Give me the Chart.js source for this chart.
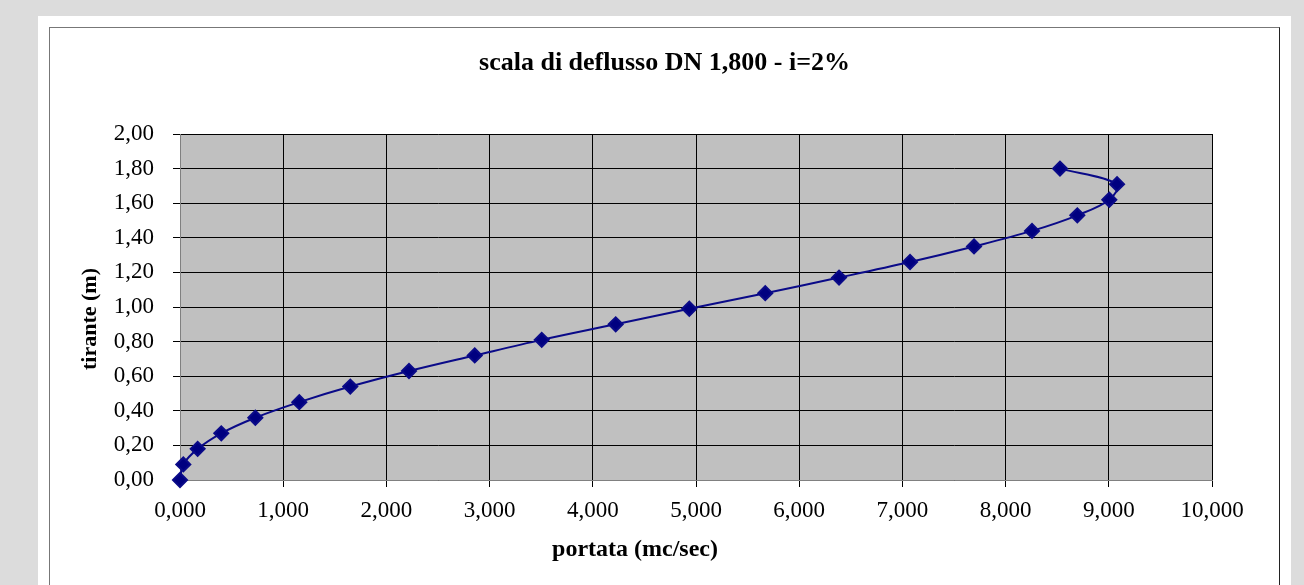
<!DOCTYPE html>
<html>
<head>
<meta charset="utf-8">
<script src="https://cdn.jsdelivr.net/npm/chart.js@4.4.0/dist/chart.umd.min.js"></script>
<style>
  html, body { margin: 0; padding: 0; background: #dcdcdc; overflow: hidden; }
  #panel { position: absolute; left: 38px; top: 16px; width: 1253px; height: 600px; background: #fff; }
  #frame { position: absolute; left: 49px; top: 27px; width: 1229px; height: 600px;
           border-left: 1px solid #777; border-top: 1px solid #777; border-right: 1px solid #222; }
  #chart { position: absolute; left: 50px; top: 28px; }
</style>
</head>
<body>
<div id="panel"></div>
<div id="frame"></div>
<canvas id="chart" width="1229" height="557"></canvas>
<script>
// DATA
const portata = [0.000, 0.032, 0.171, 0.400, 0.730, 1.156, 1.650, 2.219, 2.856, 3.505,
                 4.222, 4.935, 5.671, 6.386, 7.074, 7.694, 8.256, 8.695, 9.005, 9.080, 8.527];
const tirante = [0.00, 0.09, 0.18, 0.27, 0.36, 0.45, 0.54, 0.63, 0.72, 0.81,
                 0.90, 0.99, 1.08, 1.17, 1.26, 1.35, 1.44, 1.53, 1.62, 1.71, 1.80];
const xTicks = [0, 1, 2, 3, 4, 5, 6, 7, 8, 9, 10];
const yTicks = [0, 0.2, 0.4, 0.6, 0.8, 1.0, 1.2, 1.4, 1.6, 1.8, 2.0];

const chartTitle = "scala di deflusso DN 1,800 - i=2%";
const xTitle = "portata (mc/sec)";
const yTitle = "tirante (m)";

const serif = "'Liberation Serif', 'Times New Roman', serif";

// plot background, chart title + axis titles
const plotDecor = {
    id: "plotDecor",
    beforeDraw(chart) {
        const { ctx, chartArea: a } = chart;
        ctx.save();
        ctx.fillStyle = "#c0c0c0";
        ctx.fillRect(a.left, a.top, a.right - a.left, a.bottom - a.top);
        ctx.restore();
    },
    afterDraw(chart) {
        const { ctx, chartArea: a } = chart;
        ctx.save();
        ctx.fillStyle = "#000";
        ctx.textAlign = "center";
        ctx.textBaseline = "middle";
        ctx.font = "bold 26px " + serif;
        ctx.fillText(chartTitle, chart.width / 2, 35);
        ctx.font = "bold 24px " + serif;
        ctx.fillText(xTitle, a.left + 455, 522);
        ctx.font = "bold 22px " + serif;
        ctx.translate(40, (a.top + a.bottom) / 2 + 12);
        ctx.rotate(-Math.PI / 2);
        ctx.fillText(yTitle, 0, 0);
        ctx.restore();
    }
};

const points = portata.map((x, i) => ({ x: x, y: tirante[i] }));

new Chart(document.getElementById("chart"), {
    type: "scatter",
    data: {
        datasets: [{
            data: points,
            showLine: true,
            clip: false,
            borderColor: "#0a0a88",
            backgroundColor: "#000080",
            borderWidth: 2,
            tension: 0.35,
            pointStyle: "rectRot",
            pointRadius: 7,
            pointHoverRadius: 7
        }]
    },
    options: {
        responsive: false,
        animation: false,
        layout: { padding: { top: 106, right: 67, bottom: 0, left: 0 } },
        plugins: {
            legend: { display: false },
            tooltip: { enabled: false },
            title: { display: false }
        },
        scales: {
            x: {
                type: "linear",
                min: 0,
                max: 10,
                afterBuildTicks(scale) { scale.ticks = xTicks.map(v => ({ value: v })); },
                afterFit(scale) { scale.height = 105; },
                grid: { color: "#000", lineWidth: 1, tickLength: 7, tickColor: "#000" },
                border: { color: "#808080", width: 1 },
                ticks: {
                    color: "#000",
                    padding: 10,
                    maxRotation: 0,
                    font: { family: serif, size: 23 },
                    callback: v => v.toFixed(3).replace(".", ",")
                }
            },
            y: {
                type: "linear",
                min: 0,
                max: 2,
                afterBuildTicks(scale) { scale.ticks = yTicks.map(v => ({ value: v })); },
                afterFit(scale) { scale.width = 130; },
                grid: { color: "#000", lineWidth: 1, tickLength: 7, tickColor: "#000" },
                border: { color: "#808080", width: 1 },
                ticks: {
                    color: "#000",
                    padding: 19,
                    font: { family: serif, size: 23 },
                    callback: v => v.toFixed(2).replace(".", ",")
                }
            }
        }
    },
    plugins: [plotDecor]
});
</script>
</body>
</html>
